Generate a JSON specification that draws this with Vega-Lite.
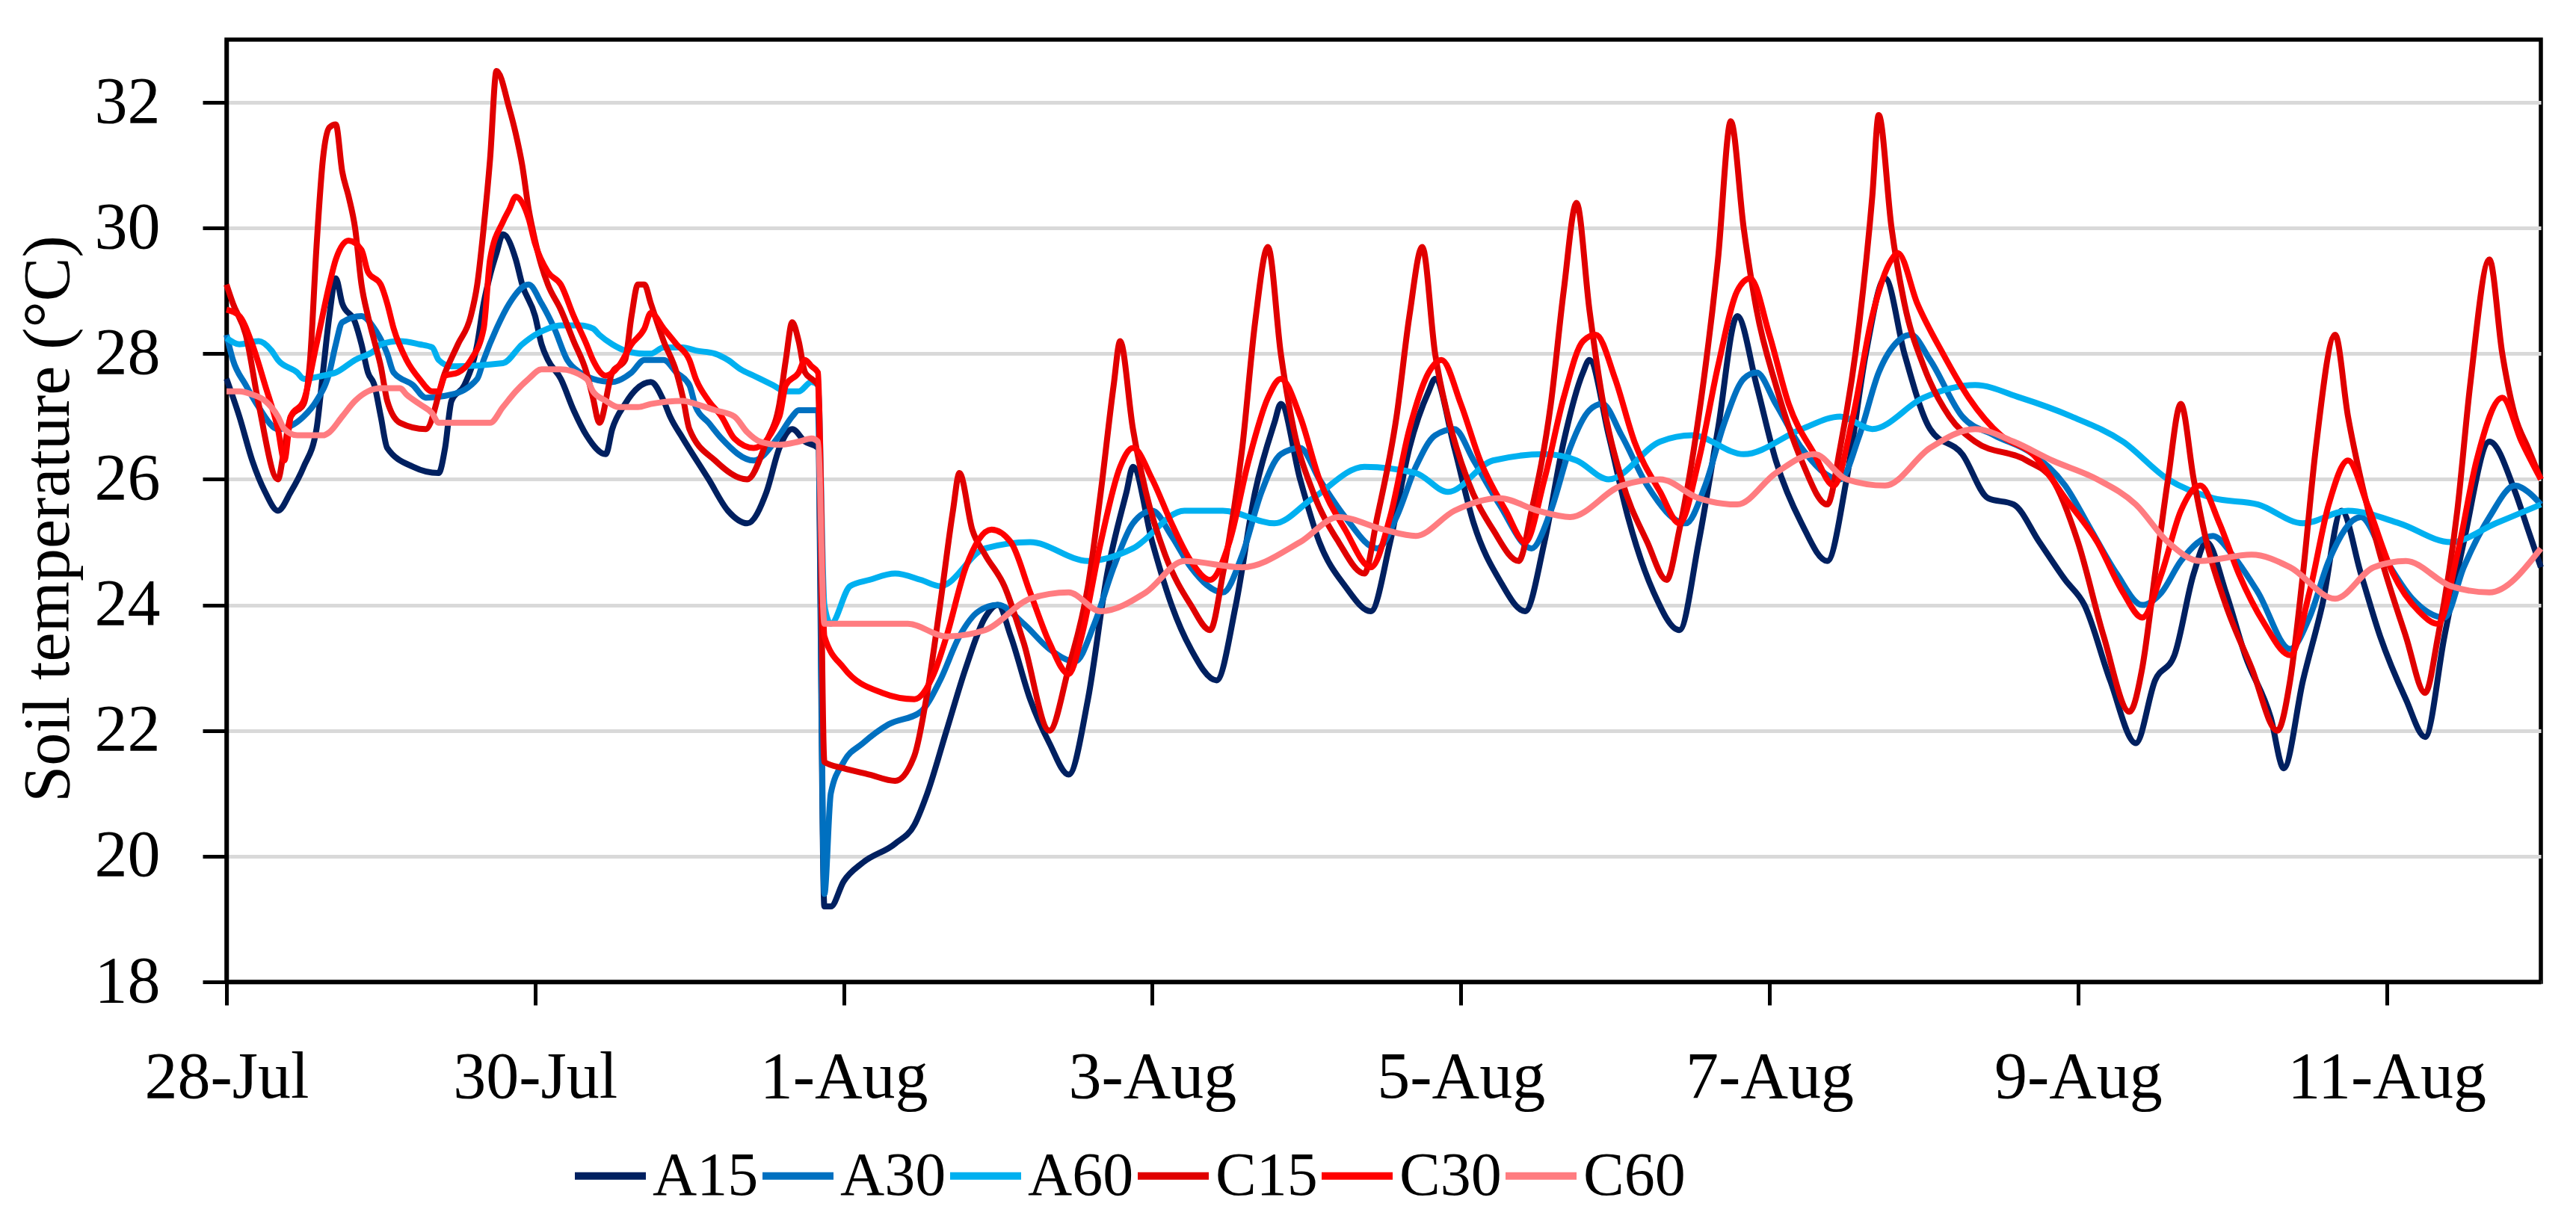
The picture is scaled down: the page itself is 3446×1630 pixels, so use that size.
{
  "$schema": "https://vega.github.io/schema/vega-lite/v6.json",
  "autosize": {"type": "none"},
  "padding": {"left": 303, "top": 53, "right": 47, "bottom": 316},
  "width": 3096,
  "height": 1261,
  "background": "white",
  "config": {
    "font": "Liberation Serif",
    "view": {"stroke": "#000000", "strokeWidth": 5.5}
  },
  "data": {"values": [
{"s":"A15","t":"2019-07-28T00:00","v":27.6},{"s":"A15","t":"2019-07-28T02:00","v":27.0},{"s":"A15","t":"2019-07-28T04:00","v":26.3},{"s":"A15","t":"2019-07-28T06:00","v":25.8},{"s":"A15","t":"2019-07-28T08:00","v":25.5},{"s":"A15","t":"2019-07-28T10:00","v":25.8},{"s":"A15","t":"2019-07-28T12:00","v":26.2},{"s":"A15","t":"2019-07-28T14:00","v":26.8},{"s":"A15","t":"2019-07-28T15:00","v":27.7},{"s":"A15","t":"2019-07-28T16:00","v":28.6},{"s":"A15","t":"2019-07-28T17:00","v":29.2},{"s":"A15","t":"2019-07-28T18:00","v":28.8},{"s":"A15","t":"2019-07-28T20:00","v":28.5},{"s":"A15","t":"2019-07-28T21:00","v":28.15},{"s":"A15","t":"2019-07-28T22:00","v":27.7},{"s":"A15","t":"2019-07-28T23:00","v":27.5},
{"s":"A15","t":"2019-07-29T00:00","v":27.0},{"s":"A15","t":"2019-07-29T01:00","v":26.5},{"s":"A15","t":"2019-07-29T05:00","v":26.2},{"s":"A15","t":"2019-07-29T09:00","v":26.1},{"s":"A15","t":"2019-07-29T10:00","v":26.5},{"s":"A15","t":"2019-07-29T11:00","v":27.25},{"s":"A15","t":"2019-07-29T13:00","v":27.5},{"s":"A15","t":"2019-07-29T15:00","v":28.15},{"s":"A15","t":"2019-07-29T16:00","v":28.8},{"s":"A15","t":"2019-07-29T17:00","v":29.25},{"s":"A15","t":"2019-07-29T18:00","v":29.6},{"s":"A15","t":"2019-07-29T19:00","v":29.9},{"s":"A15","t":"2019-07-29T21:00","v":29.5},{"s":"A15","t":"2019-07-29T22:00","v":29.1},
{"s":"A15","t":"2019-07-30T00:00","v":28.6},{"s":"A15","t":"2019-07-30T01:00","v":28.15},{"s":"A15","t":"2019-07-30T02:00","v":27.9},{"s":"A15","t":"2019-07-30T04:00","v":27.6},{"s":"A15","t":"2019-07-30T06:00","v":27.1},{"s":"A15","t":"2019-07-30T08:00","v":26.7},{"s":"A15","t":"2019-07-30T11:00","v":26.4},{"s":"A15","t":"2019-07-30T12:00","v":26.8},{"s":"A15","t":"2019-07-30T14:00","v":27.2},{"s":"A15","t":"2019-07-30T15:00","v":27.35},{"s":"A15","t":"2019-07-30T18:00","v":27.55},{"s":"A15","t":"2019-07-30T20:00","v":27.25},{"s":"A15","t":"2019-07-30T21:00","v":27.0},{"s":"A15","t":"2019-07-30T23:00","v":26.65},
{"s":"A15","t":"2019-07-31T03:00","v":26.0},{"s":"A15","t":"2019-07-31T06:00","v":25.5},{"s":"A15","t":"2019-07-31T09:00","v":25.3},{"s":"A15","t":"2019-07-31T12:00","v":25.8},{"s":"A15","t":"2019-07-31T14:00","v":26.5},{"s":"A15","t":"2019-07-31T16:00","v":26.8},{"s":"A15","t":"2019-07-31T18:00","v":26.6},{"s":"A15","t":"2019-07-31T20:00","v":26.5},{"s":"A15","t":"2019-07-31T21:00","v":19.2},{"s":"A15","t":"2019-07-31T22:00","v":19.2},
{"s":"A15","t":"2019-08-01T00:00","v":19.6},{"s":"A15","t":"2019-08-01T03:00","v":19.9},{"s":"A15","t":"2019-08-01T08:00","v":20.2},{"s":"A15","t":"2019-08-01T11:00","v":20.5},{"s":"A15","t":"2019-08-01T13:00","v":21.0},{"s":"A15","t":"2019-08-01T16:00","v":22.0},{"s":"A15","t":"2019-08-01T19:00","v":23.0},{"s":"A15","t":"2019-08-01T22:00","v":23.8},
{"s":"A15","t":"2019-08-02T00:00","v":24.0},{"s":"A15","t":"2019-08-02T02:00","v":23.5},{"s":"A15","t":"2019-08-02T05:00","v":22.5},{"s":"A15","t":"2019-08-02T08:00","v":21.8},{"s":"A15","t":"2019-08-02T11:00","v":21.3},{"s":"A15","t":"2019-08-02T14:00","v":22.5},{"s":"A15","t":"2019-08-02T17:00","v":24.5},{"s":"A15","t":"2019-08-02T20:00","v":25.8},{"s":"A15","t":"2019-08-02T21:00","v":26.2},
{"s":"A15","t":"2019-08-03T00:00","v":25.0},{"s":"A15","t":"2019-08-03T03:00","v":24.0},{"s":"A15","t":"2019-08-03T06:00","v":23.3},{"s":"A15","t":"2019-08-03T10:00","v":22.8},{"s":"A15","t":"2019-08-03T13:00","v":24.0},{"s":"A15","t":"2019-08-03T16:00","v":25.8},{"s":"A15","t":"2019-08-03T19:00","v":26.9},{"s":"A15","t":"2019-08-03T20:00","v":27.2},{"s":"A15","t":"2019-08-03T23:00","v":26.0},
{"s":"A15","t":"2019-08-04T02:00","v":25.0},{"s":"A15","t":"2019-08-04T06:00","v":24.3},{"s":"A15","t":"2019-08-04T10:00","v":23.9},{"s":"A15","t":"2019-08-04T13:00","v":25.0},{"s":"A15","t":"2019-08-04T16:00","v":26.5},{"s":"A15","t":"2019-08-04T19:00","v":27.4},{"s":"A15","t":"2019-08-04T20:00","v":27.6},{"s":"A15","t":"2019-08-04T23:00","v":26.5},
{"s":"A15","t":"2019-08-05T02:00","v":25.3},{"s":"A15","t":"2019-08-05T06:00","v":24.4},{"s":"A15","t":"2019-08-05T10:00","v":23.9},{"s":"A15","t":"2019-08-05T13:00","v":25.0},{"s":"A15","t":"2019-08-05T16:00","v":26.6},{"s":"A15","t":"2019-08-05T19:00","v":27.7},{"s":"A15","t":"2019-08-05T20:00","v":27.9},{"s":"A15","t":"2019-08-05T23:00","v":26.7},
{"s":"A15","t":"2019-08-06T02:00","v":25.4},{"s":"A15","t":"2019-08-06T06:00","v":24.2},{"s":"A15","t":"2019-08-06T10:00","v":23.6},{"s":"A15","t":"2019-08-06T13:00","v":25.0},{"s":"A15","t":"2019-08-06T16:00","v":26.8},{"s":"A15","t":"2019-08-06T19:00","v":28.6},{"s":"A15","t":"2019-08-06T22:00","v":27.5},
{"s":"A15","t":"2019-08-07T01:00","v":26.3},{"s":"A15","t":"2019-08-07T05:00","v":25.3},{"s":"A15","t":"2019-08-07T09:00","v":24.7},{"s":"A15","t":"2019-08-07T12:00","v":26.0},{"s":"A15","t":"2019-08-07T15:00","v":28.0},{"s":"A15","t":"2019-08-07T18:00","v":29.2},{"s":"A15","t":"2019-08-07T21:00","v":28.0},
{"s":"A15","t":"2019-08-08T01:00","v":26.8},{"s":"A15","t":"2019-08-08T06:00","v":26.4},{"s":"A15","t":"2019-08-08T10:00","v":25.7},{"s":"A15","t":"2019-08-08T14:00","v":25.6},{"s":"A15","t":"2019-08-08T18:00","v":25.0},{"s":"A15","t":"2019-08-08T22:00","v":24.4},
{"s":"A15","t":"2019-08-09T01:00","v":24.0},{"s":"A15","t":"2019-08-09T05:00","v":22.8},{"s":"A15","t":"2019-08-09T09:00","v":21.8},{"s":"A15","t":"2019-08-09T12:00","v":22.8},{"s":"A15","t":"2019-08-09T15:00","v":23.2},{"s":"A15","t":"2019-08-09T18:00","v":24.5},{"s":"A15","t":"2019-08-09T20:00","v":25.0},{"s":"A15","t":"2019-08-09T23:00","v":24.2},
{"s":"A15","t":"2019-08-10T02:00","v":23.2},{"s":"A15","t":"2019-08-10T06:00","v":22.2},{"s":"A15","t":"2019-08-10T08:00","v":21.4},{"s":"A15","t":"2019-08-10T11:00","v":22.8},{"s":"A15","t":"2019-08-10T14:00","v":24.0},{"s":"A15","t":"2019-08-10T17:00","v":25.5},{"s":"A15","t":"2019-08-10T20:00","v":24.5},{"s":"A15","t":"2019-08-10T23:00","v":23.5},
{"s":"A15","t":"2019-08-11T03:00","v":22.5},{"s":"A15","t":"2019-08-11T06:00","v":21.9},{"s":"A15","t":"2019-08-11T09:00","v":23.5},{"s":"A15","t":"2019-08-11T12:00","v":25.0},{"s":"A15","t":"2019-08-11T16:00","v":26.6},{"s":"A15","t":"2019-08-11T20:00","v":25.8},{"s":"A15","t":"2019-08-11T22:00","v":25.2},{"s":"A15","t":"2019-08-12T00:00","v":24.6},

{"s":"A30","t":"2019-07-28T00:00","v":28.3},{"s":"A30","t":"2019-07-28T01:00","v":27.9},{"s":"A30","t":"2019-07-28T03:00","v":27.5},{"s":"A30","t":"2019-07-28T05:00","v":27.15},{"s":"A30","t":"2019-07-28T08:00","v":26.8},{"s":"A30","t":"2019-07-28T12:00","v":27.0},{"s":"A30","t":"2019-07-28T14:00","v":27.25},{"s":"A30","t":"2019-07-28T16:00","v":27.7},{"s":"A30","t":"2019-07-28T17:00","v":28.15},{"s":"A30","t":"2019-07-28T18:00","v":28.5},{"s":"A30","t":"2019-07-28T21:00","v":28.6},{"s":"A30","t":"2019-07-28T23:00","v":28.4},
{"s":"A30","t":"2019-07-29T01:00","v":28.0},{"s":"A30","t":"2019-07-29T02:00","v":27.7},{"s":"A30","t":"2019-07-29T05:00","v":27.5},{"s":"A30","t":"2019-07-29T07:00","v":27.3},{"s":"A30","t":"2019-07-29T11:00","v":27.35},{"s":"A30","t":"2019-07-29T15:00","v":27.6},{"s":"A30","t":"2019-07-29T16:00","v":27.9},{"s":"A30","t":"2019-07-29T18:00","v":28.4},{"s":"A30","t":"2019-07-29T20:00","v":28.8},{"s":"A30","t":"2019-07-29T23:00","v":29.1},
{"s":"A30","t":"2019-07-30T01:00","v":28.8},{"s":"A30","t":"2019-07-30T03:00","v":28.4},{"s":"A30","t":"2019-07-30T05:00","v":27.9},{"s":"A30","t":"2019-07-30T07:00","v":27.7},{"s":"A30","t":"2019-07-30T09:00","v":27.6},{"s":"A30","t":"2019-07-30T12:00","v":27.55},{"s":"A30","t":"2019-07-30T15:00","v":27.7},{"s":"A30","t":"2019-07-30T17:00","v":27.9},{"s":"A30","t":"2019-07-30T20:00","v":27.9},{"s":"A30","t":"2019-07-30T22:00","v":27.7},
{"s":"A30","t":"2019-07-31T00:00","v":27.5},{"s":"A30","t":"2019-07-31T01:00","v":27.15},{"s":"A30","t":"2019-07-31T03:00","v":26.9},{"s":"A30","t":"2019-07-31T05:00","v":26.65},{"s":"A30","t":"2019-07-31T10:00","v":26.3},{"s":"A30","t":"2019-07-31T14:00","v":26.7},{"s":"A30","t":"2019-07-31T16:00","v":27.0},{"s":"A30","t":"2019-07-31T17:00","v":27.1},{"s":"A30","t":"2019-07-31T20:00","v":27.1},{"s":"A30","t":"2019-07-31T21:00","v":19.4},{"s":"A30","t":"2019-07-31T22:00","v":21.0},
{"s":"A30","t":"2019-08-01T00:00","v":21.5},{"s":"A30","t":"2019-08-01T03:00","v":21.8},{"s":"A30","t":"2019-08-01T07:00","v":22.1},{"s":"A30","t":"2019-08-01T12:00","v":22.3},{"s":"A30","t":"2019-08-01T15:00","v":22.8},{"s":"A30","t":"2019-08-01T18:00","v":23.5},{"s":"A30","t":"2019-08-01T21:00","v":23.9},
{"s":"A30","t":"2019-08-02T00:00","v":24.0},{"s":"A30","t":"2019-08-02T04:00","v":23.7},{"s":"A30","t":"2019-08-02T08:00","v":23.3},{"s":"A30","t":"2019-08-02T12:00","v":23.1},{"s":"A30","t":"2019-08-02T15:00","v":23.7},{"s":"A30","t":"2019-08-02T18:00","v":24.6},{"s":"A30","t":"2019-08-02T21:00","v":25.3},
{"s":"A30","t":"2019-08-03T00:00","v":25.5},{"s":"A30","t":"2019-08-03T03:00","v":25.1},{"s":"A30","t":"2019-08-03T06:00","v":24.6},{"s":"A30","t":"2019-08-03T11:00","v":24.2},{"s":"A30","t":"2019-08-03T14:00","v":24.8},{"s":"A30","t":"2019-08-03T17:00","v":25.8},{"s":"A30","t":"2019-08-03T20:00","v":26.4},{"s":"A30","t":"2019-08-03T23:00","v":26.5},
{"s":"A30","t":"2019-08-04T02:00","v":26.0},{"s":"A30","t":"2019-08-04T06:00","v":25.4},{"s":"A30","t":"2019-08-04T11:00","v":24.9},{"s":"A30","t":"2019-08-04T14:00","v":25.4},{"s":"A30","t":"2019-08-04T17:00","v":26.2},{"s":"A30","t":"2019-08-04T20:00","v":26.7},{"s":"A30","t":"2019-08-04T23:00","v":26.8},
{"s":"A30","t":"2019-08-05T02:00","v":26.3},{"s":"A30","t":"2019-08-05T06:00","v":25.6},{"s":"A30","t":"2019-08-05T11:00","v":24.9},{"s":"A30","t":"2019-08-05T14:00","v":25.5},{"s":"A30","t":"2019-08-05T17:00","v":26.5},{"s":"A30","t":"2019-08-05T20:00","v":27.1},{"s":"A30","t":"2019-08-05T22:00","v":27.2},
{"s":"A30","t":"2019-08-06T01:00","v":26.7},{"s":"A30","t":"2019-08-06T05:00","v":25.9},{"s":"A30","t":"2019-08-06T11:00","v":25.3},{"s":"A30","t":"2019-08-06T14:00","v":25.9},{"s":"A30","t":"2019-08-06T17:00","v":26.9},{"s":"A30","t":"2019-08-06T20:00","v":27.6},{"s":"A30","t":"2019-08-06T22:00","v":27.7},
{"s":"A30","t":"2019-08-07T01:00","v":27.2},{"s":"A30","t":"2019-08-07T05:00","v":26.5},{"s":"A30","t":"2019-08-07T11:00","v":26.0},{"s":"A30","t":"2019-08-07T14:00","v":26.7},{"s":"A30","t":"2019-08-07T17:00","v":27.7},{"s":"A30","t":"2019-08-07T20:00","v":28.2},{"s":"A30","t":"2019-08-07T22:00","v":28.3},
{"s":"A30","t":"2019-08-08T01:00","v":27.9},{"s":"A30","t":"2019-08-08T06:00","v":27.0},{"s":"A30","t":"2019-08-08T11:00","v":26.7},{"s":"A30","t":"2019-08-08T17:00","v":26.4},{"s":"A30","t":"2019-08-08T22:00","v":25.9},
{"s":"A30","t":"2019-08-09T02:00","v":25.2},{"s":"A30","t":"2019-08-09T06:00","v":24.5},{"s":"A30","t":"2019-08-09T10:00","v":24.0},{"s":"A30","t":"2019-08-09T13:00","v":24.2},{"s":"A30","t":"2019-08-09T16:00","v":24.7},{"s":"A30","t":"2019-08-09T21:00","v":25.1},
{"s":"A30","t":"2019-08-10T00:00","v":24.8},{"s":"A30","t":"2019-08-10T04:00","v":24.2},{"s":"A30","t":"2019-08-10T09:00","v":23.3},{"s":"A30","t":"2019-08-10T12:00","v":23.8},{"s":"A30","t":"2019-08-10T15:00","v":24.7},{"s":"A30","t":"2019-08-10T20:00","v":25.4},
{"s":"A30","t":"2019-08-11T00:00","v":24.7},{"s":"A30","t":"2019-08-11T04:00","v":24.1},{"s":"A30","t":"2019-08-11T09:00","v":23.8},{"s":"A30","t":"2019-08-11T12:00","v":24.6},{"s":"A30","t":"2019-08-11T16:00","v":25.4},{"s":"A30","t":"2019-08-11T20:00","v":25.9},{"s":"A30","t":"2019-08-11T22:00","v":25.8},{"s":"A30","t":"2019-08-12T00:00","v":25.6},

{"s":"A60","t":"2019-07-28T00:00","v":28.25},{"s":"A60","t":"2019-07-28T02:00","v":28.15},{"s":"A60","t":"2019-07-28T05:00","v":28.2},{"s":"A60","t":"2019-07-28T07:00","v":28.05},{"s":"A60","t":"2019-07-28T08:00","v":27.9},{"s":"A60","t":"2019-07-28T11:00","v":27.7},{"s":"A60","t":"2019-07-28T12:00","v":27.6},{"s":"A60","t":"2019-07-28T15:00","v":27.65},{"s":"A60","t":"2019-07-28T17:00","v":27.7},{"s":"A60","t":"2019-07-28T20:00","v":27.9},{"s":"A60","t":"2019-07-28T23:00","v":28.05},
{"s":"A60","t":"2019-07-29T00:00","v":28.15},{"s":"A60","t":"2019-07-29T03:00","v":28.2},{"s":"A60","t":"2019-07-29T06:00","v":28.15},{"s":"A60","t":"2019-07-29T08:00","v":28.1},{"s":"A60","t":"2019-07-29T09:00","v":27.9},{"s":"A60","t":"2019-07-29T11:00","v":27.8},{"s":"A60","t":"2019-07-29T19:00","v":27.85},{"s":"A60","t":"2019-07-29T22:00","v":28.15},
{"s":"A60","t":"2019-07-30T00:00","v":28.3},{"s":"A60","t":"2019-07-30T02:00","v":28.4},{"s":"A60","t":"2019-07-30T04:00","v":28.45},{"s":"A60","t":"2019-07-30T07:00","v":28.45},{"s":"A60","t":"2019-07-30T09:00","v":28.4},{"s":"A60","t":"2019-07-30T10:00","v":28.3},{"s":"A60","t":"2019-07-30T12:00","v":28.15},{"s":"A60","t":"2019-07-30T14:00","v":28.05},{"s":"A60","t":"2019-07-30T17:00","v":28.0},{"s":"A60","t":"2019-07-30T18:00","v":28.0},{"s":"A60","t":"2019-07-30T20:00","v":28.1},{"s":"A60","t":"2019-07-30T23:00","v":28.1},
{"s":"A60","t":"2019-07-31T01:00","v":28.05},{"s":"A60","t":"2019-07-31T04:00","v":28.0},{"s":"A60","t":"2019-07-31T06:00","v":27.9},{"s":"A60","t":"2019-07-31T08:00","v":27.75},{"s":"A60","t":"2019-07-31T10:00","v":27.65},{"s":"A60","t":"2019-07-31T13:00","v":27.5},{"s":"A60","t":"2019-07-31T15:00","v":27.4},{"s":"A60","t":"2019-07-31T17:00","v":27.4},{"s":"A60","t":"2019-07-31T19:00","v":27.55},{"s":"A60","t":"2019-07-31T20:00","v":27.5},{"s":"A60","t":"2019-07-31T21:00","v":24.0},{"s":"A60","t":"2019-07-31T22:00","v":23.7},
{"s":"A60","t":"2019-08-01T01:00","v":24.3},{"s":"A60","t":"2019-08-01T04:00","v":24.4},{"s":"A60","t":"2019-08-01T08:00","v":24.5},{"s":"A60","t":"2019-08-01T12:00","v":24.4},{"s":"A60","t":"2019-08-01T15:00","v":24.3},{"s":"A60","t":"2019-08-01T22:00","v":24.9},
{"s":"A60","t":"2019-08-02T05:00","v":25.0},{"s":"A60","t":"2019-08-02T14:00","v":24.7},{"s":"A60","t":"2019-08-02T21:00","v":24.9},
{"s":"A60","t":"2019-08-03T05:00","v":25.5},{"s":"A60","t":"2019-08-03T11:00","v":25.5},{"s":"A60","t":"2019-08-03T19:00","v":25.3},
{"s":"A60","t":"2019-08-04T01:00","v":25.7},{"s":"A60","t":"2019-08-04T09:00","v":26.2},{"s":"A60","t":"2019-08-04T17:00","v":26.1},{"s":"A60","t":"2019-08-04T22:00","v":25.8},
{"s":"A60","t":"2019-08-05T05:00","v":26.3},{"s":"A60","t":"2019-08-05T13:00","v":26.4},{"s":"A60","t":"2019-08-05T18:00","v":26.3},{"s":"A60","t":"2019-08-05T23:00","v":26.0},
{"s":"A60","t":"2019-08-06T07:00","v":26.6},{"s":"A60","t":"2019-08-06T12:00","v":26.7},{"s":"A60","t":"2019-08-06T20:00","v":26.4},
{"s":"A60","t":"2019-08-07T05:00","v":26.8},{"s":"A60","t":"2019-08-07T11:00","v":27.0},{"s":"A60","t":"2019-08-07T16:00","v":26.8},
{"s":"A60","t":"2019-08-08T00:00","v":27.3},{"s":"A60","t":"2019-08-08T08:00","v":27.5},{"s":"A60","t":"2019-08-08T15:00","v":27.3},{"s":"A60","t":"2019-08-08T23:00","v":27.0},
{"s":"A60","t":"2019-08-09T07:00","v":26.6},{"s":"A60","t":"2019-08-09T14:00","v":26.0},{"s":"A60","t":"2019-08-09T21:00","v":25.7},
{"s":"A60","t":"2019-08-10T04:00","v":25.6},{"s":"A60","t":"2019-08-10T11:00","v":25.3},{"s":"A60","t":"2019-08-10T18:00","v":25.5},
{"s":"A60","t":"2019-08-11T02:00","v":25.3},{"s":"A60","t":"2019-08-11T10:00","v":25.0},{"s":"A60","t":"2019-08-11T17:00","v":25.3},{"s":"A60","t":"2019-08-12T00:00","v":25.6},

{"s":"C15","t":"2019-07-28T00:00","v":29.1},{"s":"C15","t":"2019-07-28T01:00","v":28.8},{"s":"C15","t":"2019-07-28T03:00","v":28.3},{"s":"C15","t":"2019-07-28T05:00","v":27.2},{"s":"C15","t":"2019-07-28T08:00","v":26.0},{"s":"C15","t":"2019-07-28T09:00","v":26.5},{"s":"C15","t":"2019-07-28T10:00","v":27.0},{"s":"C15","t":"2019-07-28T12:00","v":27.2},{"s":"C15","t":"2019-07-28T13:00","v":27.9},{"s":"C15","t":"2019-07-28T14:00","v":29.7},{"s":"C15","t":"2019-07-28T15:00","v":31.1},{"s":"C15","t":"2019-07-28T16:00","v":31.6},{"s":"C15","t":"2019-07-28T17:00","v":31.65},{"s":"C15","t":"2019-07-28T18:00","v":30.9},{"s":"C15","t":"2019-07-28T19:00","v":30.5},{"s":"C15","t":"2019-07-28T20:00","v":30.0},{"s":"C15","t":"2019-07-28T21:00","v":29.1},{"s":"C15","t":"2019-07-28T22:00","v":28.6},{"s":"C15","t":"2019-07-28T23:00","v":28.2},
{"s":"C15","t":"2019-07-29T00:00","v":27.8},{"s":"C15","t":"2019-07-29T01:00","v":27.25},{"s":"C15","t":"2019-07-29T03:00","v":26.9},{"s":"C15","t":"2019-07-29T07:00","v":26.8},{"s":"C15","t":"2019-07-29T10:00","v":27.7},{"s":"C15","t":"2019-07-29T12:00","v":28.15},{"s":"C15","t":"2019-07-29T14:00","v":28.6},{"s":"C15","t":"2019-07-29T15:00","v":29.1},{"s":"C15","t":"2019-07-29T16:00","v":30.0},{"s":"C15","t":"2019-07-29T17:00","v":31.1},{"s":"C15","t":"2019-07-29T18:00","v":32.5},{"s":"C15","t":"2019-07-29T20:00","v":31.9},{"s":"C15","t":"2019-07-29T21:00","v":31.5},{"s":"C15","t":"2019-07-29T22:00","v":31.0},{"s":"C15","t":"2019-07-29T23:00","v":30.3},
{"s":"C15","t":"2019-07-30T00:00","v":29.8},{"s":"C15","t":"2019-07-30T01:00","v":29.4},{"s":"C15","t":"2019-07-30T02:00","v":29.1},{"s":"C15","t":"2019-07-30T04:00","v":28.7},{"s":"C15","t":"2019-07-30T06:00","v":28.2},{"s":"C15","t":"2019-07-30T08:00","v":27.7},{"s":"C15","t":"2019-07-30T09:00","v":27.3},{"s":"C15","t":"2019-07-30T10:00","v":26.9},{"s":"C15","t":"2019-07-30T12:00","v":27.7},{"s":"C15","t":"2019-07-30T14:00","v":27.9},{"s":"C15","t":"2019-07-30T15:00","v":28.6},{"s":"C15","t":"2019-07-30T16:00","v":29.1},{"s":"C15","t":"2019-07-30T17:00","v":29.1},{"s":"C15","t":"2019-07-30T18:00","v":28.8},{"s":"C15","t":"2019-07-30T20:00","v":28.2},{"s":"C15","t":"2019-07-30T22:00","v":27.7},{"s":"C15","t":"2019-07-30T23:00","v":27.3},
{"s":"C15","t":"2019-07-31T00:00","v":26.8},{"s":"C15","t":"2019-07-31T04:00","v":26.3},{"s":"C15","t":"2019-07-31T09:00","v":26.0},{"s":"C15","t":"2019-07-31T12:00","v":26.6},{"s":"C15","t":"2019-07-31T14:00","v":27.2},{"s":"C15","t":"2019-07-31T15:00","v":27.9},{"s":"C15","t":"2019-07-31T16:00","v":28.5},{"s":"C15","t":"2019-07-31T17:00","v":28.2},{"s":"C15","t":"2019-07-31T18:00","v":27.7},{"s":"C15","t":"2019-07-31T19:00","v":27.6},{"s":"C15","t":"2019-07-31T20:00","v":27.5},{"s":"C15","t":"2019-07-31T21:00","v":21.5},
{"s":"C15","t":"2019-08-01T00:00","v":21.4},{"s":"C15","t":"2019-08-01T04:00","v":21.3},{"s":"C15","t":"2019-08-01T08:00","v":21.2},{"s":"C15","t":"2019-08-01T11:00","v":21.6},{"s":"C15","t":"2019-08-01T13:00","v":22.6},{"s":"C15","t":"2019-08-01T15:00","v":24.0},{"s":"C15","t":"2019-08-01T17:00","v":25.5},{"s":"C15","t":"2019-08-01T18:00","v":26.1},{"s":"C15","t":"2019-08-01T20:00","v":25.2},{"s":"C15","t":"2019-08-01T22:00","v":24.8},
{"s":"C15","t":"2019-08-02T01:00","v":24.3},{"s":"C15","t":"2019-08-02T04:00","v":23.4},{"s":"C15","t":"2019-08-02T08:00","v":22.0},{"s":"C15","t":"2019-08-02T11:00","v":23.0},{"s":"C15","t":"2019-08-02T14:00","v":24.3},{"s":"C15","t":"2019-08-02T16:00","v":25.8},{"s":"C15","t":"2019-08-02T18:00","v":27.5},{"s":"C15","t":"2019-08-02T19:00","v":28.2},{"s":"C15","t":"2019-08-02T21:00","v":26.8},{"s":"C15","t":"2019-08-02T23:00","v":25.8},
{"s":"C15","t":"2019-08-03T02:00","v":24.8},{"s":"C15","t":"2019-08-03T06:00","v":24.0},{"s":"C15","t":"2019-08-03T09:00","v":23.6},{"s":"C15","t":"2019-08-03T11:00","v":24.5},{"s":"C15","t":"2019-08-03T14:00","v":26.5},{"s":"C15","t":"2019-08-03T16:00","v":28.5},{"s":"C15","t":"2019-08-03T18:00","v":29.7},{"s":"C15","t":"2019-08-03T20:00","v":28.0},{"s":"C15","t":"2019-08-03T22:00","v":26.8},
{"s":"C15","t":"2019-08-04T01:00","v":25.8},{"s":"C15","t":"2019-08-04T05:00","v":25.0},{"s":"C15","t":"2019-08-04T09:00","v":24.5},{"s":"C15","t":"2019-08-04T11:00","v":25.4},{"s":"C15","t":"2019-08-04T14:00","v":27.0},{"s":"C15","t":"2019-08-04T16:00","v":28.6},{"s":"C15","t":"2019-08-04T18:00","v":29.7},{"s":"C15","t":"2019-08-04T20:00","v":28.0},{"s":"C15","t":"2019-08-04T22:00","v":27.0},
{"s":"C15","t":"2019-08-05T01:00","v":26.0},{"s":"C15","t":"2019-08-05T05:00","v":25.2},{"s":"C15","t":"2019-08-05T09:00","v":24.7},{"s":"C15","t":"2019-08-05T11:00","v":25.5},{"s":"C15","t":"2019-08-05T14:00","v":27.2},{"s":"C15","t":"2019-08-05T16:00","v":29.0},{"s":"C15","t":"2019-08-05T18:00","v":30.4},{"s":"C15","t":"2019-08-05T20:00","v":28.7},{"s":"C15","t":"2019-08-05T22:00","v":27.3},
{"s":"C15","t":"2019-08-06T01:00","v":26.0},{"s":"C15","t":"2019-08-06T05:00","v":25.0},{"s":"C15","t":"2019-08-06T08:00","v":24.4},{"s":"C15","t":"2019-08-06T10:00","v":25.2},{"s":"C15","t":"2019-08-06T13:00","v":27.0},{"s":"C15","t":"2019-08-06T16:00","v":29.5},{"s":"C15","t":"2019-08-06T18:00","v":31.7},{"s":"C15","t":"2019-08-06T20:00","v":30.0},{"s":"C15","t":"2019-08-06T22:00","v":28.7},
{"s":"C15","t":"2019-08-07T01:00","v":27.5},{"s":"C15","t":"2019-08-07T05:00","v":26.3},{"s":"C15","t":"2019-08-07T09:00","v":25.6},{"s":"C15","t":"2019-08-07T11:00","v":26.5},{"s":"C15","t":"2019-08-07T14:00","v":28.5},{"s":"C15","t":"2019-08-07T16:00","v":30.5},{"s":"C15","t":"2019-08-07T17:00","v":31.8},{"s":"C15","t":"2019-08-07T19:00","v":30.0},{"s":"C15","t":"2019-08-07T21:00","v":28.8},
{"s":"C15","t":"2019-08-08T00:00","v":27.8},{"s":"C15","t":"2019-08-08T04:00","v":27.0},{"s":"C15","t":"2019-08-08T08:00","v":26.6},{"s":"C15","t":"2019-08-08T16:00","v":26.3},{"s":"C15","t":"2019-08-08T20:00","v":26.0},
{"s":"C15","t":"2019-08-09T00:00","v":25.0},{"s":"C15","t":"2019-08-09T04:00","v":23.5},{"s":"C15","t":"2019-08-09T08:00","v":22.3},{"s":"C15","t":"2019-08-09T10:00","v":23.0},{"s":"C15","t":"2019-08-09T12:00","v":24.5},{"s":"C15","t":"2019-08-09T14:00","v":26.0},{"s":"C15","t":"2019-08-09T16:00","v":27.2},{"s":"C15","t":"2019-08-09T18:00","v":26.0},{"s":"C15","t":"2019-08-09T20:00","v":25.0},{"s":"C15","t":"2019-08-09T23:00","v":24.0},
{"s":"C15","t":"2019-08-10T03:00","v":23.0},{"s":"C15","t":"2019-08-10T07:00","v":22.0},{"s":"C15","t":"2019-08-10T09:00","v":22.8},{"s":"C15","t":"2019-08-10T11:00","v":24.5},{"s":"C15","t":"2019-08-10T13:00","v":26.5},{"s":"C15","t":"2019-08-10T16:00","v":28.3},{"s":"C15","t":"2019-08-10T18:00","v":27.0},{"s":"C15","t":"2019-08-10T20:00","v":26.0},{"s":"C15","t":"2019-08-10T23:00","v":24.8},
{"s":"C15","t":"2019-08-11T03:00","v":23.5},{"s":"C15","t":"2019-08-11T06:00","v":22.6},{"s":"C15","t":"2019-08-11T08:00","v":23.5},{"s":"C15","t":"2019-08-11T11:00","v":25.5},{"s":"C15","t":"2019-08-11T13:00","v":27.5},{"s":"C15","t":"2019-08-11T16:00","v":29.5},{"s":"C15","t":"2019-08-11T18:00","v":28.0},{"s":"C15","t":"2019-08-11T20:00","v":27.0},{"s":"C15","t":"2019-08-11T22:00","v":26.5},{"s":"C15","t":"2019-08-12T00:00","v":26.0},

{"s":"C30","t":"2019-07-28T00:00","v":28.7},{"s":"C30","t":"2019-07-28T02:00","v":28.6},{"s":"C30","t":"2019-07-28T04:00","v":28.15},{"s":"C30","t":"2019-07-28T06:00","v":27.5},{"s":"C30","t":"2019-07-28T08:00","v":26.8},{"s":"C30","t":"2019-07-28T09:00","v":26.3},{"s":"C30","t":"2019-07-28T10:00","v":27.0},{"s":"C30","t":"2019-07-28T12:00","v":27.25},{"s":"C30","t":"2019-07-28T14:00","v":28.15},{"s":"C30","t":"2019-07-28T16:00","v":29.1},{"s":"C30","t":"2019-07-28T17:00","v":29.5},{"s":"C30","t":"2019-07-28T19:00","v":29.8},{"s":"C30","t":"2019-07-28T21:00","v":29.65},{"s":"C30","t":"2019-07-28T22:00","v":29.3},
{"s":"C30","t":"2019-07-29T00:00","v":29.1},{"s":"C30","t":"2019-07-29T01:00","v":28.8},{"s":"C30","t":"2019-07-29T02:00","v":28.4},{"s":"C30","t":"2019-07-29T04:00","v":27.9},{"s":"C30","t":"2019-07-29T06:00","v":27.6},{"s":"C30","t":"2019-07-29T08:00","v":27.4},{"s":"C30","t":"2019-07-29T09:00","v":27.4},{"s":"C30","t":"2019-07-29T10:00","v":27.65},{"s":"C30","t":"2019-07-29T12:00","v":27.7},{"s":"C30","t":"2019-07-29T14:00","v":27.9},{"s":"C30","t":"2019-07-29T16:00","v":28.4},{"s":"C30","t":"2019-07-29T17:00","v":29.5},{"s":"C30","t":"2019-07-29T19:00","v":30.1},{"s":"C30","t":"2019-07-29T20:00","v":30.3},{"s":"C30","t":"2019-07-29T21:00","v":30.5},{"s":"C30","t":"2019-07-29T23:00","v":30.15},
{"s":"C30","t":"2019-07-30T00:00","v":29.75},{"s":"C30","t":"2019-07-30T02:00","v":29.3},{"s":"C30","t":"2019-07-30T04:00","v":29.1},{"s":"C30","t":"2019-07-30T06:00","v":28.6},{"s":"C30","t":"2019-07-30T08:00","v":28.15},{"s":"C30","t":"2019-07-30T09:00","v":27.9},{"s":"C30","t":"2019-07-30T11:00","v":27.65},{"s":"C30","t":"2019-07-30T13:00","v":27.8},{"s":"C30","t":"2019-07-30T15:00","v":28.15},{"s":"C30","t":"2019-07-30T17:00","v":28.4},{"s":"C30","t":"2019-07-30T18:00","v":28.65},{"s":"C30","t":"2019-07-30T20:00","v":28.4},{"s":"C30","t":"2019-07-30T22:00","v":28.15},
{"s":"C30","t":"2019-07-31T00:00","v":27.9},{"s":"C30","t":"2019-07-31T01:00","v":27.6},{"s":"C30","t":"2019-07-31T03:00","v":27.25},{"s":"C30","t":"2019-07-31T05:00","v":27.0},{"s":"C30","t":"2019-07-31T07:00","v":26.65},{"s":"C30","t":"2019-07-31T10:00","v":26.5},{"s":"C30","t":"2019-07-31T14:00","v":27.0},{"s":"C30","t":"2019-07-31T15:00","v":27.5},{"s":"C30","t":"2019-07-31T17:00","v":27.7},{"s":"C30","t":"2019-07-31T18:00","v":27.9},{"s":"C30","t":"2019-07-31T19:00","v":27.8},{"s":"C30","t":"2019-07-31T20:00","v":27.7},{"s":"C30","t":"2019-07-31T21:00","v":23.5},
{"s":"C30","t":"2019-08-01T00:00","v":23.0},{"s":"C30","t":"2019-08-01T06:00","v":22.6},{"s":"C30","t":"2019-08-01T11:00","v":22.5},{"s":"C30","t":"2019-08-01T14:00","v":22.9},{"s":"C30","t":"2019-08-01T16:00","v":23.5},{"s":"C30","t":"2019-08-01T19:00","v":24.6},{"s":"C30","t":"2019-08-01T23:00","v":25.2},
{"s":"C30","t":"2019-08-02T02:00","v":25.0},{"s":"C30","t":"2019-08-02T05:00","v":24.2},{"s":"C30","t":"2019-08-02T08:00","v":23.4},{"s":"C30","t":"2019-08-02T11:00","v":22.9},{"s":"C30","t":"2019-08-02T13:00","v":23.5},{"s":"C30","t":"2019-08-02T16:00","v":25.0},{"s":"C30","t":"2019-08-02T19:00","v":26.2},{"s":"C30","t":"2019-08-02T21:00","v":26.5},
{"s":"C30","t":"2019-08-03T00:00","v":26.0},{"s":"C30","t":"2019-08-03T03:00","v":25.3},{"s":"C30","t":"2019-08-03T06:00","v":24.7},{"s":"C30","t":"2019-08-03T09:00","v":24.4},{"s":"C30","t":"2019-08-03T12:00","v":25.0},{"s":"C30","t":"2019-08-03T15:00","v":26.3},{"s":"C30","t":"2019-08-03T18:00","v":27.3},{"s":"C30","t":"2019-08-03T20:00","v":27.6},{"s":"C30","t":"2019-08-03T23:00","v":27.0},
{"s":"C30","t":"2019-08-04T02:00","v":26.0},{"s":"C30","t":"2019-08-04T06:00","v":25.2},{"s":"C30","t":"2019-08-04T10:00","v":24.6},{"s":"C30","t":"2019-08-04T13:00","v":25.4},{"s":"C30","t":"2019-08-04T16:00","v":26.8},{"s":"C30","t":"2019-08-04T19:00","v":27.7},{"s":"C30","t":"2019-08-04T21:00","v":27.9},
{"s":"C30","t":"2019-08-05T00:00","v":27.2},{"s":"C30","t":"2019-08-05T03:00","v":26.3},{"s":"C30","t":"2019-08-05T07:00","v":25.5},{"s":"C30","t":"2019-08-05T10:00","v":25.0},{"s":"C30","t":"2019-08-05T13:00","v":26.0},{"s":"C30","t":"2019-08-05T16:00","v":27.3},{"s":"C30","t":"2019-08-05T19:00","v":28.2},{"s":"C30","t":"2019-08-05T21:00","v":28.3},
{"s":"C30","t":"2019-08-06T00:00","v":27.6},{"s":"C30","t":"2019-08-06T03:00","v":26.6},{"s":"C30","t":"2019-08-06T07:00","v":25.8},{"s":"C30","t":"2019-08-06T10:00","v":25.3},{"s":"C30","t":"2019-08-06T13:00","v":26.3},{"s":"C30","t":"2019-08-06T16:00","v":27.8},{"s":"C30","t":"2019-08-06T19:00","v":29.0},{"s":"C30","t":"2019-08-06T21:00","v":29.2},
{"s":"C30","t":"2019-08-07T00:00","v":28.3},{"s":"C30","t":"2019-08-07T03:00","v":27.2},{"s":"C30","t":"2019-08-07T07:00","v":26.4},{"s":"C30","t":"2019-08-07T10:00","v":25.9},{"s":"C30","t":"2019-08-07T13:00","v":27.0},{"s":"C30","t":"2019-08-07T16:00","v":28.6},{"s":"C30","t":"2019-08-07T19:00","v":29.5},{"s":"C30","t":"2019-08-07T20:00","v":29.6},{"s":"C30","t":"2019-08-07T23:00","v":28.8},
{"s":"C30","t":"2019-08-08T03:00","v":28.0},{"s":"C30","t":"2019-08-08T07:00","v":27.3},{"s":"C30","t":"2019-08-08T12:00","v":26.7},{"s":"C30","t":"2019-08-08T17:00","v":26.4},{"s":"C30","t":"2019-08-08T22:00","v":25.7},
{"s":"C30","t":"2019-08-09T03:00","v":25.0},{"s":"C30","t":"2019-08-09T07:00","v":24.2},{"s":"C30","t":"2019-08-09T10:00","v":23.8},{"s":"C30","t":"2019-08-09T13:00","v":24.5},{"s":"C30","t":"2019-08-09T16:00","v":25.5},{"s":"C30","t":"2019-08-09T19:00","v":25.9},{"s":"C30","t":"2019-08-09T22:00","v":25.3},
{"s":"C30","t":"2019-08-10T01:00","v":24.5},{"s":"C30","t":"2019-08-10T05:00","v":23.7},{"s":"C30","t":"2019-08-10T09:00","v":23.2},{"s":"C30","t":"2019-08-10T12:00","v":24.2},{"s":"C30","t":"2019-08-10T15:00","v":25.6},{"s":"C30","t":"2019-08-10T18:00","v":26.3},{"s":"C30","t":"2019-08-10T21:00","v":25.6},
{"s":"C30","t":"2019-08-11T01:00","v":24.5},{"s":"C30","t":"2019-08-11T05:00","v":23.9},{"s":"C30","t":"2019-08-11T08:00","v":23.7},{"s":"C30","t":"2019-08-11T11:00","v":24.8},{"s":"C30","t":"2019-08-11T14:00","v":26.3},{"s":"C30","t":"2019-08-11T18:00","v":27.3},{"s":"C30","t":"2019-08-11T21:00","v":26.6},{"s":"C30","t":"2019-08-12T00:00","v":26.0},

{"s":"C60","t":"2019-07-28T00:00","v":27.4},{"s":"C60","t":"2019-07-28T02:00","v":27.4},{"s":"C60","t":"2019-07-28T04:00","v":27.35},{"s":"C60","t":"2019-07-28T06:00","v":27.25},{"s":"C60","t":"2019-07-28T08:00","v":27.0},{"s":"C60","t":"2019-07-28T09:00","v":26.8},{"s":"C60","t":"2019-07-28T11:00","v":26.7},{"s":"C60","t":"2019-07-28T15:00","v":26.7},{"s":"C60","t":"2019-07-28T16:00","v":26.75},{"s":"C60","t":"2019-07-28T18:00","v":27.0},{"s":"C60","t":"2019-07-28T20:00","v":27.25},{"s":"C60","t":"2019-07-28T22:00","v":27.4},
{"s":"C60","t":"2019-07-29T00:00","v":27.45},{"s":"C60","t":"2019-07-29T03:00","v":27.45},{"s":"C60","t":"2019-07-29T04:00","v":27.35},{"s":"C60","t":"2019-07-29T06:00","v":27.2},{"s":"C60","t":"2019-07-29T08:00","v":27.05},{"s":"C60","t":"2019-07-29T09:00","v":26.9},{"s":"C60","t":"2019-07-29T17:00","v":26.9},{"s":"C60","t":"2019-07-29T19:00","v":27.15},{"s":"C60","t":"2019-07-29T21:00","v":27.4},{"s":"C60","t":"2019-07-29T23:00","v":27.6},
{"s":"C60","t":"2019-07-30T01:00","v":27.75},{"s":"C60","t":"2019-07-30T04:00","v":27.75},{"s":"C60","t":"2019-07-30T08:00","v":27.6},{"s":"C60","t":"2019-07-30T09:00","v":27.4},{"s":"C60","t":"2019-07-30T11:00","v":27.25},{"s":"C60","t":"2019-07-30T13:00","v":27.15},{"s":"C60","t":"2019-07-30T16:00","v":27.15},{"s":"C60","t":"2019-07-30T18:00","v":27.2},{"s":"C60","t":"2019-07-30T23:00","v":27.25},
{"s":"C60","t":"2019-07-31T01:00","v":27.2},{"s":"C60","t":"2019-07-31T04:00","v":27.1},{"s":"C60","t":"2019-07-31T07:00","v":27.0},{"s":"C60","t":"2019-07-31T09:00","v":26.75},{"s":"C60","t":"2019-07-31T11:00","v":26.6},{"s":"C60","t":"2019-07-31T14:00","v":26.55},{"s":"C60","t":"2019-07-31T17:00","v":26.6},{"s":"C60","t":"2019-07-31T19:00","v":26.65},{"s":"C60","t":"2019-07-31T20:00","v":26.6},{"s":"C60","t":"2019-07-31T21:00","v":23.7},
{"s":"C60","t":"2019-08-01T10:00","v":23.7},{"s":"C60","t":"2019-08-01T16:00","v":23.5},{"s":"C60","t":"2019-08-01T22:00","v":23.6},
{"s":"C60","t":"2019-08-02T05:00","v":24.1},{"s":"C60","t":"2019-08-02T11:00","v":24.2},{"s":"C60","t":"2019-08-02T16:00","v":23.9},{"s":"C60","t":"2019-08-02T23:00","v":24.2},
{"s":"C60","t":"2019-08-03T05:00","v":24.7},{"s":"C60","t":"2019-08-03T14:00","v":24.6},{"s":"C60","t":"2019-08-03T23:00","v":25.0},
{"s":"C60","t":"2019-08-04T05:00","v":25.4},{"s":"C60","t":"2019-08-04T12:00","v":25.2},{"s":"C60","t":"2019-08-04T17:00","v":25.1},{"s":"C60","t":"2019-08-04T23:00","v":25.5},
{"s":"C60","t":"2019-08-05T06:00","v":25.7},{"s":"C60","t":"2019-08-05T12:00","v":25.5},{"s":"C60","t":"2019-08-05T17:00","v":25.4},
{"s":"C60","t":"2019-08-06T01:00","v":25.9},{"s":"C60","t":"2019-08-06T07:00","v":26.0},{"s":"C60","t":"2019-08-06T13:00","v":25.7},{"s":"C60","t":"2019-08-06T19:00","v":25.6},
{"s":"C60","t":"2019-08-07T01:00","v":26.1},{"s":"C60","t":"2019-08-07T07:00","v":26.4},{"s":"C60","t":"2019-08-07T12:00","v":26.0},{"s":"C60","t":"2019-08-07T18:00","v":25.9},
{"s":"C60","t":"2019-08-08T01:00","v":26.5},{"s":"C60","t":"2019-08-08T08:00","v":26.8},{"s":"C60","t":"2019-08-08T14:00","v":26.6},{"s":"C60","t":"2019-08-08T20:00","v":26.3},
{"s":"C60","t":"2019-08-09T03:00","v":26.0},{"s":"C60","t":"2019-08-09T09:00","v":25.6},{"s":"C60","t":"2019-08-09T14:00","v":25.0},{"s":"C60","t":"2019-08-09T19:00","v":24.7},
{"s":"C60","t":"2019-08-10T03:00","v":24.8},{"s":"C60","t":"2019-08-10T09:00","v":24.6},{"s":"C60","t":"2019-08-10T16:00","v":24.1},{"s":"C60","t":"2019-08-10T22:00","v":24.6},
{"s":"C60","t":"2019-08-11T03:00","v":24.7},{"s":"C60","t":"2019-08-11T10:00","v":24.3},{"s":"C60","t":"2019-08-11T16:00","v":24.2},{"s":"C60","t":"2019-08-12T00:00","v":24.9}
  ]},
  "mark": {"type": "line", "strokeWidth": 8, "strokeJoin": "round", "strokeCap": "butt", "interpolate": "monotone"},
  "encoding": {
    "x": {
      "field": "t", "type": "temporal",
      "scale": {"domain": [{"year": 2019, "month": 7, "date": 28}, {"year": 2019, "month": 8, "date": 12}]},
      "axis": {
        "title": null,
        "format": "%-d-%b",
        "values": [{"year": 2019, "month": 7, "date": 28}, {"year": 2019, "month": 7, "date": 30}, {"year": 2019, "month": 8, "date": 1}, {"year": 2019, "month": 8, "date": 3}, {"year": 2019, "month": 8, "date": 5}, {"year": 2019, "month": 8, "date": 7}, {"year": 2019, "month": 8, "date": 9}, {"year": 2019, "month": 8, "date": 11}],
        "grid": false,
        "domain": true, "domainColor": "#000000", "domainWidth": 5.5,
        "ticks": true, "tickColor": "#000000", "tickWidth": 5, "tickSize": 31,
        "labelFont": "Liberation Serif", "labelFontSize": 88, "labelColor": "#000000",
        "labelPadding": 53, "labelFlush": false, "labelOverlap": false, "labelLimit": 0
      }
    },
    "y": {
      "field": "v", "type": "quantitative",
      "scale": {"domain": [18, 33], "zero": false, "nice": false},
      "axis": {
        "title": "Soil temperature (°C)",
        "titleFont": "Liberation Serif", "titleFontSize": 88, "titleFontWeight": "normal", "titleColor": "#000000",
        "titleX": -212, "titleY": 641, "titleAngle": -90, "titleAlign": "center", "titleBaseline": "alphabetic",
        "values": [18, 20, 22, 24, 26, 28, 30, 32],
        "grid": true, "gridColor": "#d9d9d9", "gridWidth": 5,
        "domain": true, "domainColor": "#000000", "domainWidth": 5.5,
        "ticks": true, "tickColor": "#000000", "tickWidth": 5, "tickSize": 32,
        "labelFont": "Liberation Serif", "labelFontSize": 88, "labelColor": "#000000",
        "labelPadding": 57
      }
    },
    "color": {
      "field": "s", "type": "nominal",
      "scale": {"domain": ["A15", "A30", "A60", "C15", "C30", "C60"], "range": ["#002060", "#0070C0", "#00B0F0", "#E00000", "#FF0000", "#FF7C80"]},
      "legend": {
        "title": null,
        "orient": "none", "legendX": 461, "legendY": 1468,
        "direction": "horizontal",
        "symbolType": "stroke", "symbolSize": 9025, "symbolStrokeWidth": 10,
        "labelFont": "Liberation Serif", "labelFontSize": 82, "labelColor": "#000000",
        "labelOffset": 4, "columnPadding": -16, "padding": 0, "labelLimit": 0
      }
    }
  }
}
